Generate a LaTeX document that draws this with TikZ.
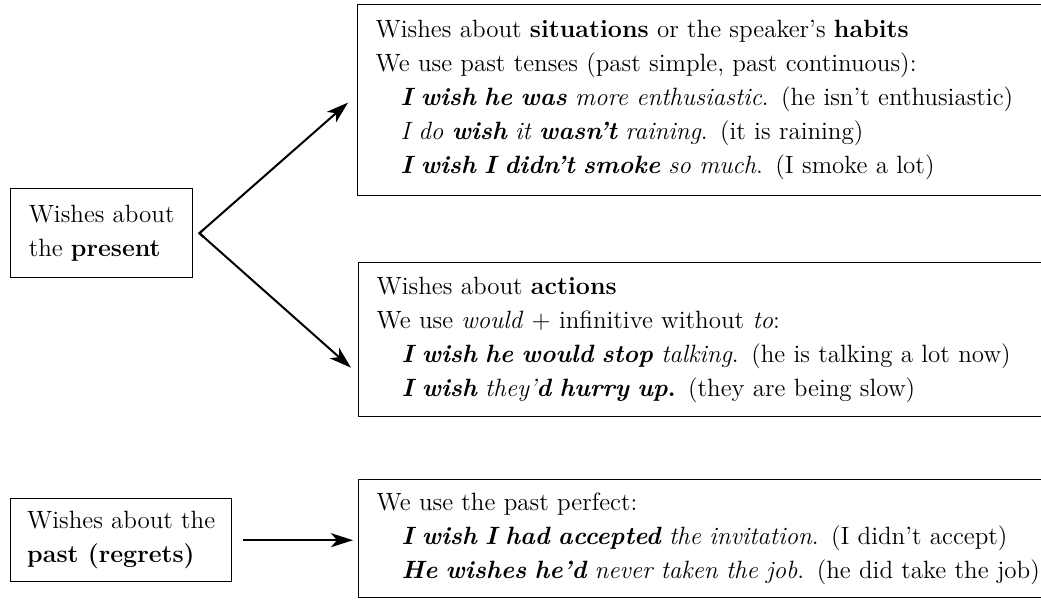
\documentclass[tikz,border=0pt]{standalone}
\usetikzlibrary{arrows.meta,calc}
\begin{document}
\begin{tikzpicture}[x=0.5pt,y=-0.5pt,
  txt/.style={font=\fontsize{12.5}{17}\selectfont},
  box/.style={draw, line width=0.7pt, rectangle, txt, align=left, inner ysep=0pt},
  bigbox/.style={box, anchor=north west, inner xsep=9pt, text width=333pt, minimum width=351pt},
  smallbox/.style={box, anchor=north west},
  arr/.style={line width=1pt, -{Stealth[length=11pt,width=7pt,inset=3pt]}}]
\useasboundingbox (0,0) rectangle (1041,601);
\clip (0,0) rectangle (1041,601);
\newcommand{\ind}{\hspace*{12.5pt}}
% left boxes
\node[smallbox, minimum width=91pt, minimum height=44.5pt] (A) at (10,188)
  {Wishes about\\the \textbf{present}};
\node[smallbox, minimum width=110.5pt, minimum height=41.5pt] (D) at (10,498)
  {Wishes about the\\\textbf{past (regrets)}};
% right boxes
\node[bigbox, minimum height=95.5pt] (B) at (357,4)
  {Wishes about \textbf{situations} or the speaker's \textbf{habits}\\
   We use past tenses (past simple, past continuous):\\
   \ind\textit{\textbf{I wish he was} more enthusiastic}. (he isn't enthusiastic)\\
   \ind\textit{I do \textbf{wish} it \textbf{wasn't} raining}. (it is raining)\\
   \ind\textit{\textbf{I wish I didn't smoke} so much}. (I smoke a lot)};
\node[bigbox, minimum height=77pt] (C) at (358,262)
  {Wishes about \textbf{actions}\\
   We use \textit{would} + infinitive without \textit{to}:\\
   \ind\textit{\textbf{I wish he would stop} talking}. (he is talking a lot now)\\
   \ind\textit{\textbf{I wish} they'\textbf{d hurry up}}\textbf{.} (they are being slow)};
\node[bigbox, minimum height=59pt] (E) at (358,479)
  {We use the past perfect:\\
   \ind\textit{\textbf{I wish I had accepted} the invitation}. (I didn't accept)\\
   \ind\textit{\textbf{He wishes he'd} never taken the job}. (he did take the job)};
% connectors
\coordinate (apex) at ([xshift=3pt]A.east);
\coordinate (tipB) at ([xshift=-4.5pt,yshift=-1.2pt]B.west);
\coordinate (tipC) at ([xshift=-3.5pt,yshift=-14pt]C.west);
\coordinate (startD) at ([xshift=5.5pt]D.east);
\draw[arr] (apex) -- (tipB);
\draw[arr] (apex) -- (tipC);
\draw[line width=1pt, line join=miter] ($(apex)!3pt!(tipB)$) -- (apex) -- ($(apex)!3pt!(tipC)$);
\draw[arr] (startD) -- ([xshift=-2.5pt]startD -| E.west);
\end{tikzpicture}
\end{document}
